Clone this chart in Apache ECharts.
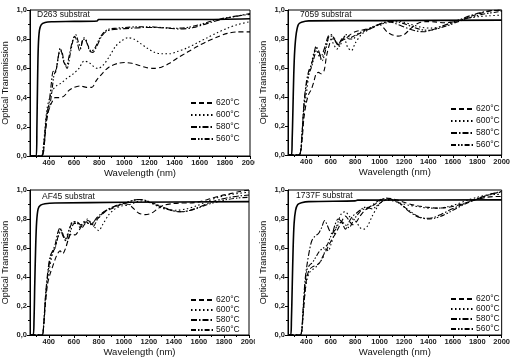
<!DOCTYPE html>
<html><head><meta charset="utf-8">
<script src="https://cdn.jsdelivr.net/npm/echarts@6/dist/echarts.min.js"></script>
<style>html,body{margin:0;padding:0;background:#fff}#c{width:513px;height:359px}</style>
</head><body><div id="c"></div>
<script>
// ---- data (wavelength nm, transmission) ----
const panelLabels = ["D263 substrat", "7059 substrat", "AF45 substrat", "1737F substrat"];
const seriesNames = ["620°C", "600°C", "580°C", "560°C"];
const xTickLabels = [400, 600, 800, 1000, 1200, 1400, 1600, 1800, 2000];
const xMinorTicks = [300, 500, 700, 900, 1100, 1300, 1500, 1700, 1900];

const sub1 = [[250,0],[300,0],[305,0.2],[310,0.5],[316,0.75],[325,0.86],[340,0.9],[370,0.915],[420,0.92],[600,0.922],[785,0.925],[795,0.935],[1200,0.935],[1600,0.935],[2000,0.94]];
const f620_1 = [[250,0],[345,0],[360,0.05],[375,0.18],[390,0.28],[405,0.33],[425,0.37],[450,0.40],[480,0.40],[520,0.41],[560,0.45],[600,0.47],[650,0.48],[700,0.47],[740,0.47],[780,0.52],[830,0.57],[880,0.61],[950,0.635],[1000,0.64],[1060,0.635],[1120,0.62],[1180,0.605],[1240,0.60],[1300,0.61],[1360,0.635],[1420,0.67],[1500,0.71],[1580,0.75],[1660,0.785],[1740,0.815],[1820,0.84],[1900,0.85],[2000,0.85]];
const f600_1 = [[250,0],[340,0],[355,0.05],[370,0.2],[385,0.32],[400,0.38],[430,0.45],[460,0.48],[500,0.50],[540,0.53],[590,0.56],[640,0.6],[680,0.65],[720,0.64],[760,0.61],[790,0.60],[830,0.62],[880,0.68],[930,0.75],[980,0.79],[1030,0.81],[1080,0.80],[1130,0.77],[1180,0.74],[1240,0.71],[1300,0.70],[1360,0.70],[1420,0.715],[1500,0.74],[1580,0.775],[1660,0.81],[1740,0.845],[1820,0.875],[1900,0.90],[2000,0.92]];
const f580_1 = [[250,0],[340,0],[355,0.05],[370,0.18],[385,0.3],[400,0.35],[420,0.5],[435,0.58],[450,0.57],[470,0.65],[490,0.74],[505,0.7],[520,0.64],[540,0.62],[560,0.68],[585,0.78],[605,0.82],[625,0.78],[645,0.72],[665,0.78],[680,0.81],[700,0.78],[725,0.72],[750,0.71],[780,0.75],[820,0.82],[860,0.855],[900,0.865],[960,0.87],[1050,0.875],[1150,0.88],[1250,0.88],[1350,0.875],[1450,0.87],[1550,0.88],[1650,0.905],[1750,0.93],[1850,0.95],[1950,0.965],[2000,0.97]];
const f560_1 = [[250,0],[345,0],[360,0.05],[375,0.2],[390,0.3],[405,0.33],[425,0.45],[440,0.55],[460,0.6],[480,0.7],[500,0.72],[520,0.65],[545,0.6],[570,0.7],[595,0.8],[615,0.83],[635,0.78],[655,0.74],[670,0.8],[690,0.8],[710,0.76],[735,0.72],[760,0.73],[800,0.8],[840,0.85],[880,0.87],[940,0.875],[1000,0.88],[1100,0.885],[1200,0.885],[1300,0.88],[1400,0.875],[1500,0.88],[1600,0.9],[1700,0.925],[1800,0.945],[1900,0.96],[2000,0.975]];

const sub2 = [[250,0],[278,0],[284,0.1],[290,0.3],[297,0.55],[305,0.72],[318,0.84],[335,0.9],[360,0.915],[420,0.925],[1000,0.927],[2000,0.93]];
const f620_2 = [[250,0],[330,0],[350,0.01],[365,0.1],[380,0.25],[400,0.36],[420,0.42],[440,0.45],[460,0.5],[480,0.56],[500,0.57],[520,0.56],[545,0.58],[565,0.68],[585,0.75],[610,0.80],[635,0.80],[660,0.76],[690,0.79],[720,0.80],[760,0.83],[800,0.85],[850,0.86],[900,0.87],[950,0.88],[1000,0.9],[1030,0.88],[1060,0.85],[1100,0.83],[1150,0.82],[1200,0.83],[1240,0.86],[1280,0.89],[1320,0.91],[1380,0.92],[1450,0.918],[1530,0.912],[1600,0.918],[1680,0.935],[1760,0.96],[1840,0.98],[1920,0.995],[2000,1.0]];
const f600_2 = [[250,0],[330,0],[350,0.01],[365,0.12],[380,0.3],[400,0.42],[420,0.55],[440,0.62],[460,0.7],[480,0.74],[500,0.69],[520,0.66],[545,0.7],[570,0.78],[595,0.8],[620,0.77],[650,0.73],[680,0.78],[710,0.8],[740,0.74],[770,0.72],[800,0.77],[850,0.83],[900,0.86],[950,0.88],[1000,0.9],[1050,0.915],[1100,0.925],[1150,0.925],[1200,0.915],[1280,0.895],[1350,0.88],[1420,0.875],[1500,0.885],[1580,0.905],[1660,0.93],[1740,0.945],[1820,0.955],[1900,0.96],[2000,0.965]];
const f580_2 = [[250,0],[330,0],[350,0.01],[365,0.15],[380,0.35],[400,0.5],[420,0.58],[440,0.62],[460,0.68],[480,0.75],[500,0.72],[520,0.68],[550,0.74],[580,0.82],[605,0.83],[630,0.8],[660,0.76],[690,0.8],[720,0.82],[750,0.8],[780,0.8],[820,0.83],[870,0.85],[920,0.87],[970,0.89],[1020,0.91],[1070,0.92],[1120,0.91],[1180,0.89],[1240,0.87],[1300,0.855],[1360,0.85],[1420,0.86],[1500,0.885],[1580,0.91],[1660,0.935],[1740,0.96],[1820,0.98],[1900,0.995],[2000,1.0]];
const f560_2 = [[250,0],[330,0],[350,0.01],[365,0.15],[380,0.33],[400,0.48],[420,0.56],[440,0.6],[460,0.66],[485,0.72],[505,0.7],[530,0.65],[560,0.73],[590,0.82],[615,0.82],[640,0.78],[670,0.75],[700,0.8],[730,0.83],[760,0.81],[790,0.82],[830,0.84],[880,0.86],[930,0.88],[990,0.9],[1050,0.91],[1100,0.92],[1160,0.915],[1220,0.9],[1280,0.88],[1340,0.865],[1400,0.86],[1470,0.87],[1550,0.89],[1630,0.915],[1710,0.94],[1790,0.96],[1870,0.975],[1950,0.985],[2000,0.99]];

const sub3 = [[250,0],[275,0],[282,0.1],[288,0.35],[295,0.6],[303,0.78],[315,0.87],[335,0.895],[370,0.905],[450,0.91],[1000,0.915],[2000,0.92]];
const f620_3 = [[250,0],[345,0],[358,0.05],[372,0.2],[390,0.35],[410,0.42],[430,0.47],[450,0.52],[470,0.56],[490,0.58],[510,0.56],[535,0.6],[560,0.67],[585,0.7],[610,0.69],[640,0.72],[670,0.76],[700,0.78],[730,0.76],[760,0.78],[800,0.81],[850,0.85],[900,0.87],[950,0.89],[1000,0.905],[1040,0.9],[1080,0.87],[1120,0.84],[1170,0.83],[1220,0.84],[1270,0.87],[1320,0.895],[1380,0.905],[1450,0.91],[1530,0.91],[1610,0.92],[1690,0.94],[1770,0.96],[1850,0.975],[1930,0.99],[2000,1.0]];
const f600_3 = [[250,0],[345,0],[358,0.05],[372,0.22],[390,0.38],[410,0.48],[430,0.56],[450,0.6],[470,0.66],[490,0.73],[510,0.7],[530,0.66],[560,0.72],[590,0.78],[620,0.78],[650,0.74],[680,0.78],[710,0.8],[740,0.77],[770,0.74],[800,0.72],[830,0.76],[880,0.83],[930,0.87],[980,0.89],[1030,0.895],[1080,0.91],[1130,0.925],[1180,0.92],[1230,0.905],[1290,0.88],[1350,0.865],[1420,0.86],[1500,0.87],[1580,0.89],[1660,0.92],[1740,0.945],[1820,0.965],[1900,0.975],[2000,0.985]];
const f580_3 = [[250,0],[345,0],[358,0.06],[372,0.25],[390,0.42],[410,0.54],[430,0.58],[450,0.62],[470,0.7],[490,0.74],[510,0.69],[535,0.65],[565,0.73],[595,0.78],[625,0.78],[655,0.76],[685,0.78],[715,0.79],[745,0.76],[775,0.8],[810,0.83],[860,0.86],[910,0.88],[960,0.9],[1010,0.91],[1060,0.925],[1110,0.935],[1160,0.93],[1220,0.91],[1280,0.89],[1340,0.87],[1400,0.855],[1460,0.85],[1530,0.86],[1610,0.885],[1690,0.915],[1770,0.935],[1850,0.95],[1930,0.96],[2000,0.965]];
const f560_3 = [[250,0],[345,0],[358,0.06],[372,0.24],[390,0.4],[410,0.52],[430,0.57],[450,0.6],[475,0.68],[500,0.72],[520,0.68],[545,0.64],[575,0.72],[605,0.77],[635,0.77],[665,0.74],[695,0.77],[725,0.77],[755,0.75],[790,0.8],[830,0.84],[880,0.87],[930,0.89],[980,0.9],[1030,0.915],[1080,0.93],[1140,0.935],[1200,0.92],[1260,0.9],[1320,0.88],[1380,0.86],[1440,0.85],[1510,0.855],[1590,0.875],[1670,0.9],[1750,0.92],[1830,0.935],[1910,0.945],[2000,0.95]];

const sub4 = [[250,0],[272,0],[278,0.1],[285,0.35],[292,0.6],[300,0.77],[312,0.86],[330,0.9],[360,0.912],[420,0.92],[800,0.925],[820,0.93],[2000,0.932]];
const f620_4 = [[250,0],[350,0],[362,0.02],[375,0.15],[390,0.3],[405,0.4],[425,0.45],[450,0.47],[480,0.48],[510,0.5],[540,0.55],[560,0.58],[585,0.62],[610,0.66],[640,0.7],[670,0.75],[700,0.8],[720,0.82],[750,0.79],[780,0.76],[810,0.78],[840,0.82],[880,0.86],[920,0.88],[960,0.9],[1000,0.925],[1050,0.945],[1100,0.94],[1150,0.93],[1200,0.915],[1260,0.9],[1320,0.89],[1400,0.88],[1480,0.875],[1560,0.88],[1640,0.895],[1720,0.915],[1800,0.935],[1880,0.95],[1960,0.955],[2000,0.955]];
const f600_4 = [[250,0],[350,0],[362,0.02],[375,0.15],[390,0.3],[405,0.38],[425,0.43],[450,0.45],[480,0.47],[510,0.5],[540,0.54],[560,0.6],[580,0.58],[600,0.62],[630,0.7],[660,0.78],[690,0.84],[720,0.85],[750,0.82],[780,0.8],[810,0.78],[840,0.74],[870,0.73],[900,0.75],[940,0.82],[980,0.88],[1020,0.92],[1060,0.93],[1110,0.925],[1170,0.91],[1240,0.895],[1320,0.885],[1400,0.875],[1480,0.875],[1560,0.885],[1640,0.905],[1720,0.93],[1800,0.95],[1880,0.965],[1960,0.97],[2000,0.97]];
const f580_4 = [[250,0],[350,0],[362,0.03],[375,0.2],[390,0.38],[405,0.48],[425,0.58],[445,0.65],[470,0.68],[500,0.7],[525,0.74],[550,0.79],[570,0.76],[590,0.72],[610,0.7],[635,0.76],[660,0.8],[690,0.78],[720,0.73],[750,0.78],[780,0.82],[810,0.84],[840,0.86],[880,0.87],[930,0.89],[980,0.92],[1030,0.94],[1080,0.94],[1130,0.925],[1180,0.9],[1230,0.86],[1280,0.83],[1330,0.81],[1380,0.805],[1440,0.81],[1500,0.83],[1570,0.86],[1650,0.89],[1730,0.92],[1810,0.945],[1890,0.965],[1960,0.98],[2000,0.985]];
const f560_4 = [[250,0],[350,0],[362,0.03],[375,0.18],[390,0.35],[405,0.45],[425,0.48],[450,0.5],[480,0.54],[510,0.58],[540,0.6],[570,0.62],[600,0.68],[630,0.72],[660,0.76],[690,0.78],[720,0.76],[750,0.74],[780,0.78],[810,0.82],[840,0.85],[870,0.88],[900,0.88],[940,0.87],[990,0.9],[1040,0.93],[1090,0.935],[1140,0.92],[1190,0.89],[1240,0.86],[1290,0.83],[1340,0.81],[1390,0.8],[1450,0.805],[1520,0.825],[1600,0.86],[1680,0.895],[1760,0.925],[1840,0.95],[1920,0.975],[2000,0.99]];

const substrates = [sub1, sub2, sub3, sub4];
const films = [
  [f620_1, f600_1, f580_1, f560_1],
  [f620_2, f600_2, f580_2, f560_2],
  [f620_3, f600_3, f580_3, f560_3],
  [f620_4, f600_4, f580_4, f560_4]
];

// ---- layout / style ----
const FONT = '"Liberation Sans", Arial, sans-serif';
const gridBoxes = [
  {left: 28, top: 10, width: 222, height: 146},
  {left: 288, top: 10, width: 217, height: 145},
  {left: 27, top: 190, width: 222, height: 145},
  {left: 288, top: 190, width: 217, height: 145}
];
const legendPos = [
  {left: 190, top: 98, gap: 2},
  {left: 450, top: 104, gap: 2},
  {left: 190, top: 295, gap: 0},
  {left: 450, top: 294, gap: 0}
];
const labelPos = [[37, 15], [300, 15], [42, 197], [296, 196]];
const dashTypes = [[5, 3], [1.5, 2.5], [6, 2, 1.5, 2], [5, 2, 1.5, 1.6, 1.5, 2]];

const grid = [], xAxis = [], yAxis = [], series = [], legend = [], graphic = [];
gridBoxes.forEach((g, i) => {
  grid.push(Object.assign({show: true, borderColor: '#000', borderWidth: 1, backgroundColor: 'transparent'}, g));
  xAxis.push({
    type: 'value', gridIndex: i, min: 250, max: 2000, position: 'bottom',
    name: 'Wavelength (nm)', nameLocation: 'middle', nameGap: 12,
    nameTextStyle: {fontFamily: FONT, fontSize: 9.5, color: '#111'},
    axisLine: {show: true, lineStyle: {color: '#000', width: 1}},
    axisTick: {show: true, length: 3, customValues: xTickLabels, lineStyle: {color: '#000'}},
    axisLabel: {customValues: xTickLabels, fontFamily: FONT, fontSize: 7.5, fontWeight: 'bold', color: '#222', margin: 3,
      formatter: v => String(v)},
    splitLine: {show: false}
  });
  xAxis.push({
    type: 'value', gridIndex: i, min: 250, max: 2000, position: 'bottom',
    axisLine: {show: false},
    axisTick: {show: true, length: 2, customValues: xMinorTicks, lineStyle: {color: '#000'}},
    axisLabel: {show: false}, splitLine: {show: false}
  });
  yAxis.push({
    type: 'value', gridIndex: i, min: 0, max: 1, interval: 0.2,
    name: 'Optical Transmission', nameLocation: 'middle', nameGap: 20, nameRotate: 90,
    nameTextStyle: {fontFamily: FONT, fontSize: 9, color: '#111'},
    axisLine: {show: true, lineStyle: {color: '#000', width: 1}},
    axisTick: {show: true, length: 3, lineStyle: {color: '#000'}},
    minorTick: {show: true, splitNumber: 2, length: 2, lineStyle: {color: '#000'}},
    axisLabel: {fontFamily: FONT, fontSize: 7.5, fontWeight: 'bold', color: '#222', margin: 3,
      formatter: v => v.toFixed(1).replace('.', ',')},
    splitLine: {show: false}
  });
  series.push({
    type: 'line', name: panelLabels[i], xAxisIndex: 2 * i, yAxisIndex: i, data: substrates[i],
    symbol: 'none', smooth: 0.3, itemStyle: {color: '#000'}, lineStyle: {color: '#000', width: 1.6}, z: 3
  });
  films[i].forEach((d, k) => {
    series.push({
      type: 'line', name: seriesNames[k], xAxisIndex: 2 * i, yAxisIndex: i, data: d,
      symbol: 'none', smooth: 0.3, itemStyle: {color: '#000'},
      lineStyle: {color: '#000', width: 1.1, type: dashTypes[k]}
    });
  });
  const lp = legendPos[i];
  legend.push({
    data: seriesNames, orient: 'vertical', left: lp.left, top: lp.top, itemGap: lp.gap,
    itemWidth: 22, itemHeight: 8, padding: 0, selectedMode: false,
    itemStyle: {opacity: 0},
    textStyle: {fontFamily: FONT, fontSize: 8.5, color: '#111', lineHeight: 10, padding: [0, 0, 0, -2]}
  });
  graphic.push({type: 'text', left: labelPos[i][0], top: labelPos[i][1] - 5,
    style: {text: panelLabels[i], fontFamily: FONT, fontSize: 8.5, fill: '#111'}});
});
// the right-hand panels overlap the clipped "2000" labels of the left panels
graphic.push({type: 'rect', shape: {x: 255, y: 158, width: 8, height: 12}, style: {fill: '#fff'}, z: 100});
graphic.push({type: 'rect', shape: {x: 255, y: 338, width: 8, height: 12}, style: {fill: '#fff'}, z: 100});

const chart = echarts.init(document.getElementById('c'), null, {renderer: 'canvas'});
chart.setOption({animation: false, backgroundColor: '#fff', grid, xAxis, yAxis, series, legend, graphic});
</script></body></html>
